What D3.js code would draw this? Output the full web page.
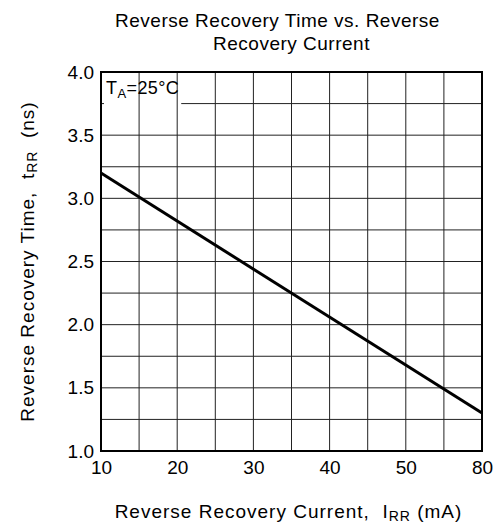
<html>

<head>
  <script src="https://d3js.org/d3.v7.min.js"></script>
  <style>
    body {
      margin: 0;
      background: white;
    }

    text {
      font-family: "Liberation Sans", Arial, sans-serif;
      fill: black;
      white-space: pre;
    }

    .cTitle {
      font-size: 19px;
      letter-spacing: 0.5px;
    }

    .axisTitle {
      font-size: 19px;
      letter-spacing: 1px;
    }

    .tick text {
      font-size: 19px;
    }
  </style>
</head>

<body>
  <svg id="trrVis" width="494" height="523"></svg>
  <script>
    // values
    const currentMA = [10, 60];
    const trrNs = [3.2, 1.3];

    const xTickValues = [10, 20, 30, 40, 50, 60];
    const xTickLabels = ["10", "20", "30", "40", "50", "80"];
    const yTickValues = [1.0, 1.5, 2.0, 2.5, 3.0, 3.5, 4.0];
    const xGridValues = [15, 20, 25, 30, 35, 40, 45, 50, 55];
    const yGridValues = [1.25, 1.5, 1.75, 2.0, 2.25, 2.5, 2.75, 3.0, 3.25, 3.5, 3.75];

    let svg = d3.select("svg#trrVis");
    let margins = { "left": 101, "right": 12, "top": 72, "bottom": 72 };
    let w = svg.attr("width");
    let h = svg.attr("height");
    let chartWidth = w - margins.left - margins.right;
    let chartHeight = h - margins.top - margins.bottom;

    let xScale = d3.scaleLinear([10, 60], [0, chartWidth]);
    let yScale = d3.scaleLinear([1, 4], [chartHeight, 0]);

    let chartArea = svg.append("g")
      .attr("transform", `translate(${margins.left}, ${margins.top})`);

    // horizontal grid
    chartArea.append("g").selectAll("line").data(yGridValues)
      .join("line")
      .attr("x1", 0)
      .attr("x2", chartWidth)
      .attr("y1", d => yScale(d))
      .attr("y2", d => yScale(d))
      .attr("stroke", "#222")
      .attr("stroke-width", 1);

    // label box hides part of the top grid line
    let label = chartArea.append("text")
      .attr("x", 5)
      .attr("y", 22)
      .style("font-size", "18px")
      .style("letter-spacing", "0.4px");
    label.append("tspan").text("T");
    label.append("tspan").text("A").style("font-size", "13px").attr("dy", 4);
    label.append("tspan").text("=25°C").attr("dy", -4);
    let bb = label.node().getBBox();
    chartArea.insert("rect", "text")
      .attr("x", 3)
      .attr("y", 2)
      .attr("width", bb.x + bb.width - 1)
      .attr("height", bb.y + bb.height + 3)
      .attr("fill", "white");

    // vertical grid
    chartArea.append("g").selectAll("line").data(xGridValues)
      .join("line")
      .attr("x1", d => xScale(d))
      .attr("x2", d => xScale(d))
      .attr("y1", 0)
      .attr("y2", chartHeight)
      .attr("stroke", "#222")
      .attr("stroke-width", 1);
    label.raise();

    // axes
    let xAxis = d3.axisBottom(xScale)
      .tickValues(xTickValues)
      .tickSize(0)
      .tickPadding(10)
      .tickFormat((d, i) => xTickLabels[i]);
    let xG = chartArea.append("g")
      .attr("transform", `translate(0, ${chartHeight})`)
      .call(xAxis);
    xG.select(".domain").remove();

    let yAxis = d3.axisLeft(yScale)
      .tickValues(yTickValues)
      .tickSize(0)
      .tickPadding(7)
      .tickFormat(d3.format(".1f"));
    let yG = chartArea.append("g").call(yAxis);
    yG.select(".domain").remove();

    // frame
    chartArea.append("rect")
      .attr("x", 0)
      .attr("y", 0)
      .attr("width", chartWidth)
      .attr("height", chartHeight)
      .attr("fill", "none")
      .attr("stroke", "black")
      .attr("stroke-width", 2);

    // curve
    let lineData = currentMA.map((c, i) => ({ x: c, y: trrNs[i] }));
    chartArea.append("path")
      .datum(lineData)
      .attr("d", d3.line().x(d => xScale(d.x)).y(d => yScale(d.y)))
      .attr("fill", "none")
      .attr("stroke", "black")
      .attr("stroke-width", 3);

    // titles
    let cx = margins.left + chartWidth / 2;
    svg.append("text")
      .attr("class", "cTitle")
      .attr("x", cx - 14)
      .attr("y", 27)
      .style("text-anchor", "middle")
      .text("Reverse Recovery Time vs. Reverse");
    svg.append("text")
      .attr("class", "cTitle")
      .attr("x", cx)
      .attr("y", 50)
      .style("text-anchor", "middle")
      .text("Recovery Current");

    let botTitle = svg.append("text")
      .attr("class", "axisTitle")
      .attr("x", cx - 3)
      .attr("y", 518)
      .style("text-anchor", "middle");
    botTitle.append("tspan").text("Reverse Recovery Current,  I");
    botTitle.append("tspan").text("RR").style("font-size", "14px").attr("dy", 3);
    botTitle.append("tspan").text(" (mA)").attr("dy", -3);

    let leftTitle = svg.append("text")
      .attr("class", "axisTitle")
      .style("text-anchor", "middle")
      .attr("transform", `translate(34, ${margins.top + chartHeight / 2}) rotate(-90)`);
    leftTitle.append("tspan").text("Reverse Recovery Time,  t");
    leftTitle.append("tspan").text("RR").style("font-size", "14px").attr("dy", 3);
    leftTitle.append("tspan").text("  (ns)").attr("dy", -3);
  </script>
</body>

</html>
